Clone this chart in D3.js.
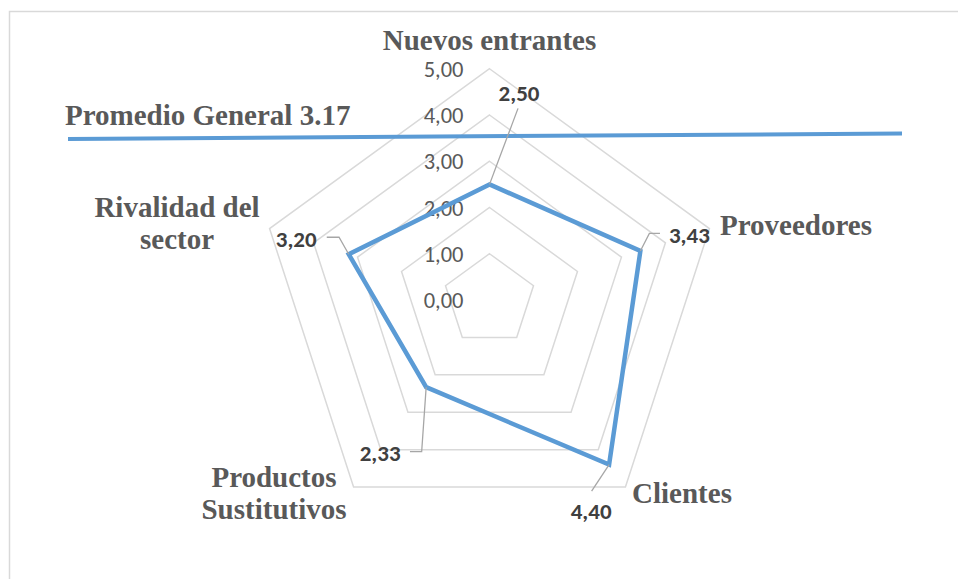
<!DOCTYPE html>
<html>
<head>
<meta charset="utf-8">
<script src="https://cdn.jsdelivr.net/npm/d3@7"></script>
<style>
  html, body { margin: 0; padding: 0; background: #ffffff; }
  svg { display: block; }
</style>
</head>
<body>
<svg id="chart" width="958" height="579"></svg>
<script>
// Porter's five forces scores (scale 0–5)
const categories = ["Nuevos entrantes", "Proveedores", "Clientes", "Productos Sustitutivos", "Rivalidad del sector"];
const categoryLines = [["Nuevos entrantes"], ["Proveedores"], ["Clientes"], ["Productos", "Sustitutivos"], ["Rivalidad del", "sector"]];
const values = [2.50, 3.43, 4.40, 2.33, 3.20];
const tickValues = [0, 1, 2, 3, 4, 5];
const averageLabel = "Promedio General 3.17";

const fmt = v => d3.format(".2f")(v).replace(".", ",");

const svg = d3.select("#chart");
const cx = 489.5, cy = 300;
const r = d3.scaleLinear().domain([0, 5]).range([0, 231.25]);
const angle = d3.scaleLinear().domain([0, categories.length]).range([0, 2 * Math.PI]);

const pt = (i, v) => {
  const a = angle(i);
  return [cx + r(v) * Math.sin(a), cy - r(v) * Math.cos(a)];
};

// chart area frame
svg.append("rect")
  .attr("x", 9.5).attr("y", 11.5)
  .attr("width", 980).attr("height", 620)
  .attr("fill", "none").attr("stroke", "#d9d9d9").attr("stroke-width", 1.5);

// pentagon gridlines
const grid = svg.append("g");
tickValues.filter(t => t > 0).forEach(t => {
  grid.append("polygon")
    .attr("points", categories.map((c, i) => pt(i, t).join(",")).join(" "))
    .attr("fill", "none")
    .attr("stroke", "#d9d9d9")
    .attr("stroke-width", 1.5);
});

// radial tick labels
svg.append("g").selectAll("text")
  .data(tickValues)
  .join("text")
  .attr("x", cx - 26)
  .attr("y", d => cy - r(d))
  .attr("dy", "0.36em")
  .attr("text-anchor", "end")
  .attr("font-family", "Carlito, 'Liberation Sans', Arial, sans-serif")
  .attr("font-size", 22.5)
  .attr("fill", "#595959")
  .text(fmt);

// average annotation
const avg = svg.append("g");
avg.append("line")
  .attr("x1", 68).attr("y1", 139)
  .attr("x2", 902).attr("y2", 133.5)
  .attr("stroke", "#5b9bd5").attr("stroke-width", 4);
avg.append("text")
  .attr("x", 65).attr("y", 125)
  .attr("font-family", "'Liberation Serif', 'Times New Roman', serif")
  .attr("font-weight", "bold")
  .attr("font-size", 29)
  .attr("fill", "#595959")
  .text(averageLabel);

// series polygon
svg.append("path")
  .attr("d", d3.line()(values.map((v, i) => pt(i, v))) + "Z")
  .attr("fill", "none")
  .attr("stroke", "#5b9bd5")
  .attr("stroke-width", 4.5)
  .attr("stroke-linejoin", "miter");

// data label placement: label centre and leader bend, relative to the point
const labelLayout = [
  { lx: 29.5, ly: -92, leader: [[28.5, -76]] },
  { lx: 49, ly: -16, leader: [[9, -17.6], [19.6, -17.6]] },
  { lx: -18, ly: 46, leader: [[-17.5, 26.4]] },
  { lx: -46, ly: 66, leader: [[-4.5, 64.5], [-16.2, 64.5]] },
  { lx: -52.5, ly: -16, leader: [[-9.7, -17], [-22, -17]] }
];

const labels = svg.append("g");
values.forEach((v, i) => {
  const [px, py] = pt(i, v);
  const L = labelLayout[i];
  labels.append("path")
    .attr("d", d3.line()([[px, py]].concat(L.leader.map(([dx, dy]) => [px + dx, py + dy]))))
    .attr("fill", "none")
    .attr("stroke", "#a6a6a6")
    .attr("stroke-width", 1.3);
  labels.append("text")
    .attr("x", px + L.lx)
    .attr("y", py + L.ly)
    .attr("dy", "0.36em")
    .attr("text-anchor", "middle")
    .attr("font-family", "Carlito, 'Liberation Sans', Arial, sans-serif")
    .attr("font-weight", "bold")
    .attr("font-size", 23)
    .attr("fill", "#404040")
    .text(fmt(v));
});

// category labels
const catLayout = [
  { x: 489.5, y: 50 },
  { x: 796, y: 235 },
  { x: 682, y: 503 },
  { x: 274, y: 487 },
  { x: 177, y: 217 }
];
const cats = svg.append("g")
  .attr("font-family", "'Liberation Serif', 'Times New Roman', serif")
  .attr("font-weight", "bold")
  .attr("font-size", 29)
  .attr("fill", "#595959")
  .attr("text-anchor", "middle");
categoryLines.forEach((lines, i) => {
  const t = cats.append("text").attr("x", catLayout[i].x).attr("y", catLayout[i].y);
  lines.forEach((ln, k) => {
    t.append("tspan").attr("x", catLayout[i].x).attr("dy", k === 0 ? 0 : 32).text(ln);
  });
});
</script>
</body>
</html>
